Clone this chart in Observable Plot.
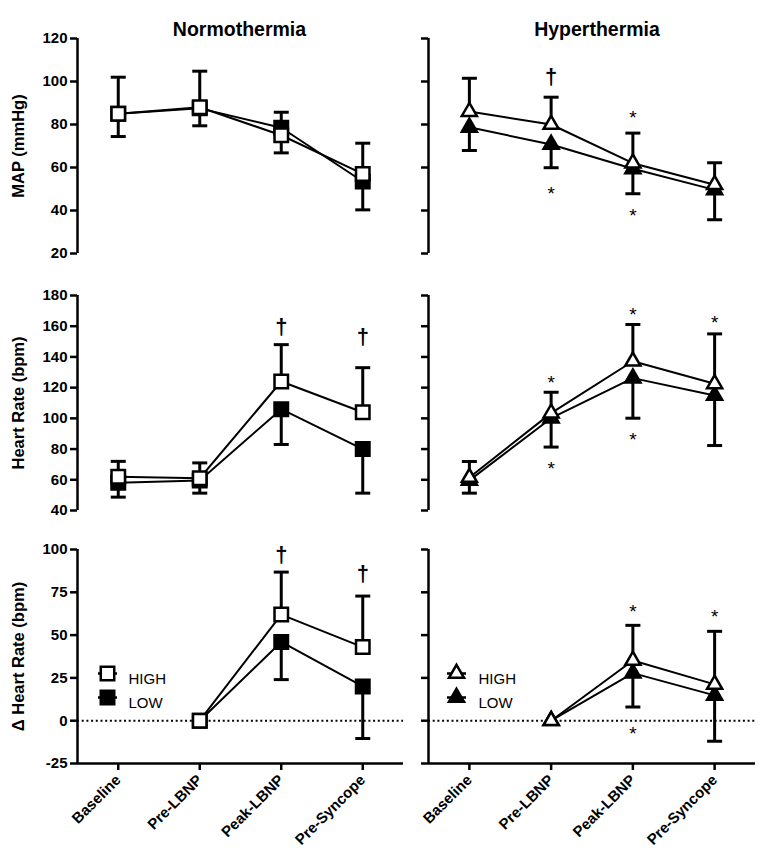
<!DOCTYPE html>
<html>
<head>
<meta charset="utf-8">
<script src="https://cdn.jsdelivr.net/npm/d3@7"></script>
<script src="https://cdn.jsdelivr.net/npm/@observablehq/plot@0.6"></script>
<style>
  html, body { margin: 0; padding: 0; background: #fff; }
  #chart { position: relative; width: 764px; height: 854px; background: #fff; }
  #chart > div { position: absolute; }
</style>
</head>
<body>
<div id="chart"></div>
<script>
// ---------- data ----------
const categories = ["Baseline", "Pre-LBNP", "Peak-LBNP", "Pre-Syncope"];
const groups = ["HIGH", "LOW"];
const columnTitles = ["Normothermia", "Hyperthermia"];
const rowLabels = ["MAP (mmHg)", "Heart Rate (bpm)", "\u0394 Heart Rate (bpm)"];

const mapTicks = [20, 40, 60, 80, 100, 120];
const hrTicks = [40, 60, 80, 100, 120, 140, 160, 180];
const dhrTicks = [-25, 0, 25, 50, 75, 100];

// MAP, normothermia
const mapNormoHigh   = [85, 88, 75, 57];
const mapNormoHighSD = [17, 16.8, 10.7, 14.3];
const mapNormoLow    = [85, 87.5, 78.5, 53.5];
const mapNormoLowSD  = [10.6, 8.1, 11.7, 13.2];
// MAP, hyperthermia
const mapHyperHigh   = [86, 80, 62, 52];
const mapHyperHighSD = [15.5, 12.7, 14, 10.2];
const mapHyperLow    = [78.7, 70.7, 59.4, 49.6];
const mapHyperLowSD  = [10.8, 10.8, 11.6, 13.9];
// Heart rate, normothermia
const hrNormoHigh   = [62, 61, 124, 104];
const hrNormoHighSD = [10, 10, 24, 29];
const hrNormoLow    = [58, 59.5, 106, 80];
const hrNormoLowSD  = [9.3, 8.2, 23, 28.7];
// Heart rate, hyperthermia
const hrHyperHigh   = [61.5, 103.4, 137.2, 122.5];
const hrHyperHighSD = [10.4, 13.6, 23.9, 32.5];
const hrHyperLow    = [59.6, 100.1, 126.2, 114.9];
const hrHyperLowSD  = [8.3, 18.8, 26.1, 32.6];
// Delta heart rate, normothermia
const dhrNormoHigh   = [null, 0, 62, 43];
const dhrNormoHighSD = [null, 0, 24.8, 29.8];
const dhrNormoLow    = [null, 0, 46, 20];
const dhrNormoLowSD  = [null, 0, 22, 30.4];
// Delta heart rate, hyperthermia
const dhrHyperHigh   = [null, 0, 35.2, 21.2];
const dhrHyperHighSD = [null, 0, 20.5, 31];
const dhrHyperLow    = [null, 0, 27.8, 14.8];
const dhrHyperLowSD  = [null, 0, 19.8, 26.8];

// significance symbols: [category index, value, symbol]
const mapHyperSig = [[1, 102.3, "\u2020"], [1, 50.2, "*"], [2, 85.3, "*"], [2, 39.7, "*"]];
const hrNormoSig  = [[2, 159.4, "\u2020"], [3, 152.7, "\u2020"]];
const hrHyperSig  = [[1, 126.4, "*"], [1, 70.4, "*"], [2, 170.9, "*"], [2, 89.3, "*"], [3, 165.2, "*"]];
const dhrNormoSig = [[2, 97.1, "\u2020"], [3, 86, "\u2020"]];
const dhrHyperSig = [[2, 66.3, "*"], [2, -4.6, "*"], [3, 63.8, "*"]];

// ---------- helpers ----------
const FONT = "'Liberation Sans', Arial, Helvetica, sans-serif";
const capSymbol = {
  draw(ctx, size) { const w = Math.sqrt(size / Math.PI); ctx.moveTo(-w, 0); ctx.lineTo(w, 0); }
};

function series(high, highSD, low, lowSD) {
  const rows = [];
  categories.forEach((c, i) => {
    if (high[i] != null) rows.push({i, group: "HIGH", v: high[i], sd: highSD[i], end: high[i] + highSD[i]});
    if (low[i] != null) rows.push({i, group: "LOW", v: low[i], sd: lowSD[i], end: low[i] - lowSD[i]});
  });
  return rows;
}

function panel({rows, sig, domain, ticks, row, col}) {
  const isLeft = col === 0;
  const symbol = isLeft ? "square" : "triangle";
  const r = isLeft ? 7.6 : 5.6;
  const geom = [
    {top: 0, height: 265, mt: 38, mb: 12},
    {top: 265, height: 255, mt: 30, mb: 10},
    {top: 520, height: 334, mt: 29, mb: 91}
  ][row];
  const cg = isLeft ? {left: 0, width: 406, ml: 77, mr: 3} : {left: 406, width: 358, ml: 22, mr: 9};
  const high = rows.filter(d => d.group === "HIGH");
  const low = rows.filter(d => d.group === "LOW");
  const bars = rows.filter(d => d.sd > 0);
  const marks = [];

  if (row === 2) {
    marks.push(Plot.ruleY([0], {stroke: "black", strokeWidth: 2, strokeDasharray: "2,2.7"}));
    marks.push(Plot.ruleY([domain[0]], {stroke: "black", strokeWidth: 2.5}));
    marks.push(Plot.axisX({
      ticks: d3.range(categories.length), tickFormat: i => categories[i],
      tickSize: 7, tickPadding: 7, tickRotate: -45, strokeWidth: 2.5,
      fontSize: 15, fontWeight: "bold", label: null, fill: "black"
    }));
  }
  marks.push(Plot.ruleX([-0.5], {stroke: "black", strokeWidth: 2.5}));
  marks.push(Plot.axisY({
    ticks, tickSize: 7, tickPadding: 3, strokeWidth: 2.5,
    tickFormat: isLeft ? (d => String(d)) : (() => ""),
    fontSize: 15, fontWeight: "bold", label: null, fill: "black"
  }));
  if (isLeft) {
    marks.push(Plot.text([rowLabels[row]], {
      frameAnchor: "left", textAnchor: "middle", dx: -59, rotate: -90,
      fontSize: 16.5, fontWeight: "bold", fill: "black"
    }));
  }
  if (row === 0) {
    marks.push(Plot.text([columnTitles[col]], {
      frameAnchor: "top", textAnchor: "middle", dy: -16, dx: isLeft ? -1 : 5,
      fontSize: 19.5, fontWeight: "bold", fill: "black"
    }));
  }
  // lines
  marks.push(Plot.line(low, {x: "i", y: "v", stroke: "black", strokeWidth: 2}));
  marks.push(Plot.line(high, {x: "i", y: "v", stroke: "black", strokeWidth: 2}));
  // error bars
  marks.push(Plot.ruleX(bars, {x: "i", y1: "v", y2: "end", stroke: "black", strokeWidth: 3}));
  marks.push(Plot.dot(bars, {x: "i", y: "end", symbol: capSymbol, r: 7.5, stroke: "black", strokeWidth: 3, fill: "none"}));
  // markers
  marks.push(Plot.dot(low, {x: "i", y: "v", symbol, r, fill: "black", stroke: "black", strokeWidth: 2.5}));
  marks.push(Plot.dot(high, {x: "i", y: "v", symbol, r, fill: "white", stroke: "black", strokeWidth: 2.5}));
  // significance
  if (sig) {
    const s = sig.map(([i, v, t]) => ({i, v, t}));
    marks.push(Plot.text(s.filter(d => d.t === "*"), {x: "i", y: "v", text: "t", fontSize: 19, fontWeight: "normal", dy: 5, fill: "black", opacity: 0.999}));
    marks.push(Plot.text(s.filter(d => d.t !== "*"), {x: "i", y: "v", text: "t", fontSize: 22, fontWeight: "bold", dy: 0, fill: "black", opacity: 0.999}));
  }
  // legend
  if (row === 2) {
    const lx = isLeft ? 30 : 28;
    const tx = isLeft ? 51 : 50;
    groups.forEach((g, k) => {
      const dy = 124 + k * 24;
      marks.push(Plot.dot([g], {frameAnchor: "top-left", dx: lx, dy, symbol: capSymbol, r: 9.5, stroke: "black", strokeWidth: 2.5}));
      marks.push(Plot.dot([g], {frameAnchor: "top-left", dx: lx, dy, symbol, r, stroke: "black", strokeWidth: 2.5, fill: k === 0 ? "white" : "black"}));
      marks.push(Plot.text([g], {frameAnchor: "top-left", dx: tx, dy, textAnchor: "start", fontSize: 15, fontWeight: "normal", fill: "black"}));
    });
  }

  const p = Plot.plot({
    width: cg.width, height: geom.height,
    marginLeft: cg.ml, marginRight: cg.mr, marginTop: geom.mt, marginBottom: geom.mb,
    x: {type: "linear", domain: [-0.5, categories.length - 0.5], axis: null},
    y: {domain, axis: null},
    style: {fontFamily: FONT, fontWeight: "bold", color: "black", background: "transparent", overflow: "visible"},
    marks
  });
  const wrap = document.createElement("div");
  wrap.style.left = cg.left + "px";
  wrap.style.top = geom.top + "px";
  wrap.appendChild(p);
  document.getElementById("chart").appendChild(wrap);
}

panel({rows: series(mapNormoHigh, mapNormoHighSD, mapNormoLow, mapNormoLowSD), sig: null, domain: [20, 120], ticks: mapTicks, row: 0, col: 0});
panel({rows: series(mapHyperHigh, mapHyperHighSD, mapHyperLow, mapHyperLowSD), sig: mapHyperSig, domain: [20, 120], ticks: mapTicks, row: 0, col: 1});
panel({rows: series(hrNormoHigh, hrNormoHighSD, hrNormoLow, hrNormoLowSD), sig: hrNormoSig, domain: [40, 180], ticks: hrTicks, row: 1, col: 0});
panel({rows: series(hrHyperHigh, hrHyperHighSD, hrHyperLow, hrHyperLowSD), sig: hrHyperSig, domain: [40, 180], ticks: hrTicks, row: 1, col: 1});
panel({rows: series(dhrNormoHigh, dhrNormoHighSD, dhrNormoLow, dhrNormoLowSD), sig: dhrNormoSig, domain: [-25, 100], ticks: dhrTicks, row: 2, col: 0});
panel({rows: series(dhrHyperHigh, dhrHyperHighSD, dhrHyperLow, dhrHyperLowSD), sig: dhrHyperSig, domain: [-25, 100], ticks: dhrTicks, row: 2, col: 1});
</script>
</body>
</html>
